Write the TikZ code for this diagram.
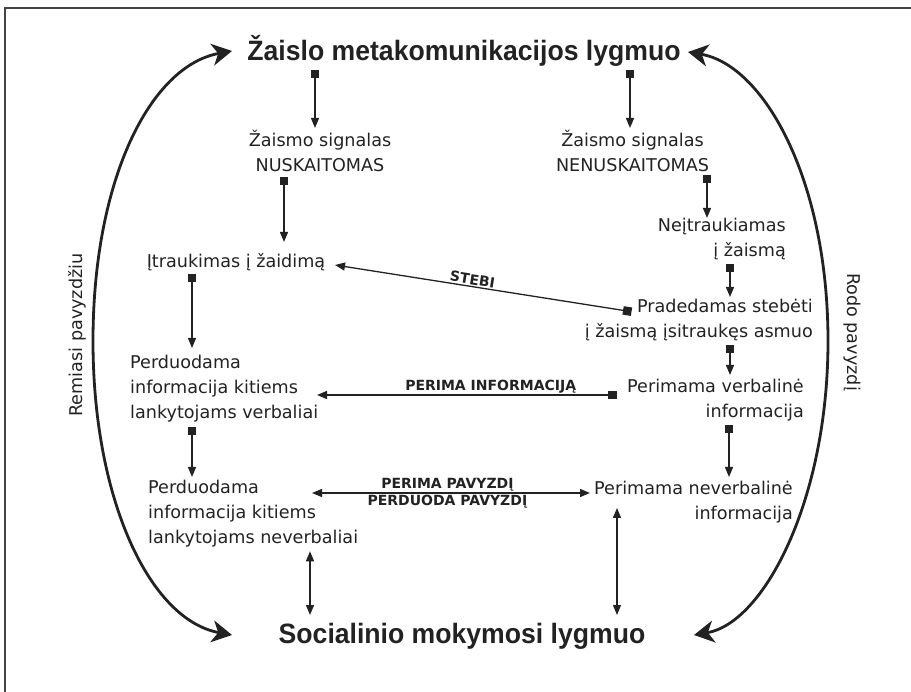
\documentclass[tikz,border=0pt]{standalone}
\usepackage{fontspec}
\usetikzlibrary{arrows.meta}
\newfontfamily\bodyfont{DejaVu Sans}
\newfontfamily\titlefont[FakeStretch=0.95]{Liberation Sans}
\definecolor{ink}{RGB}{34,34,34}
\begin{document}
\begin{tikzpicture}[x=1pt,y=-1pt,
  every node/.style={text=ink},
  txt/.style={font=\bodyfont\fontsize{17.6}{25}\selectfont, inner sep=0pt,
    execute at begin node=\strut, execute at end node=\strut},
  headtxt/.style={font=\titlefont\bfseries\fontsize{28}{32}\selectfont, inner sep=0pt, anchor=base},
  lbl/.style={font=\bodyfont\bfseries\fontsize{14}{16}\selectfont, inner sep=1.2pt},
  feed/.style={draw=ink, line width=1.3pt,
    {Square[length=8.5pt,width=8.5pt]}-{Triangle[length=10pt,width=8pt]}},
  twoway/.style={draw=ink, line width=1.3pt,
    {Triangle[length=10pt,width=8pt]}-{Triangle[length=10pt,width=8pt]}},
  arcline/.style={draw=ink, line width=2.8pt,
    {Stealth[length=20pt,width=22pt,inset=6pt]}-{Stealth[length=20pt,width=22pt,inset=6pt]}},
]
\useasboundingbox (0,0) rectangle (911,692);

% open frame: left and top edges only
\draw[draw=ink!85, line width=2pt] (5,692) -- (5,8) -- (911,8);

% the two levels
\node[headtxt] (play) at (464,61) {Žaislo metakomunikacijos lygmuo};
\node[headtxt] (social) at (462,643) {Socialinio mokymosi lygmuo};

% steps
\node[txt, anchor=north, align=center] (read) at (320,129.5) {Žaismo signalas\\NUSKAITOMAS};
\node[txt, anchor=north, align=center] (unread) at (632.5,129.5) {Žaismo signalas\\NENUSKAITOMAS};
\node[txt, anchor=north] (join) at (236,249.5) {Įtraukimas į žaidimą};
\node[txt, anchor=north east, align=right] (out) at (786,217.5) {Neįtraukiamas\\į žaismą};
\node[txt, anchor=north east, align=right] (watch) at (813,298.5) {Pradedamas stebėti\\į žaismą įsitraukęs asmuo};
\node[txt, anchor=north east, align=right] (verb) at (804,378.5) {Perimama verbalinė\\informacija};
\node[txt, anchor=north east, align=right] (nverb) at (793,480.5) {Perimama neverbalinė\\informacija};
\node[txt, anchor=north west, align=left] (passv) at (130,354.5) {Perduodama\\informacija kitiems\\lankytojams verbaliai};
\node[txt, anchor=north west, align=left] (passnv) at (148,479.5) {Perduodama\\informacija kitiems\\lankytojams neverbaliai};

% side captions
\node[txt, rotate=90] (relies) at (77,335) {Remiasi pavyzdžiu};
\node[txt, rotate=-90] (shows) at (852,332) {Rodo pavyzdį};

% flow arrows
\draw[feed] ([shift={(-149,9)}]play.base) -- ([shift={(-5,-1.5)}]read.north);
\draw[feed] ([shift={(166,9)}]play.base) -- ([shift={(-2.5,-1.5)}]unread.north);
\draw[feed] ([shift={(-36,-2)}]read.south) -- ([shift={(48,-7.5)}]join.north);
\draw[feed] ([shift={(74.5,-4)}]unread.south) -- ([shift={(-79,0.5)}]out.north east);
\draw[feed] ([shift={(-56,0)}]out.south east) -- ([shift={(-83,-1.5)}]watch.north east);
\draw[feed] ([shift={(-181.5,13.2)}]watch.north east)
  -- node[lbl, sloped, above, pos=0.54] {STEBI} ([shift={(99,15.5)}]join.north);
\draw[feed] ([shift={(-44,-1)}]join.south) -- ([shift={(62,-6.5)}]passv.north west);
\draw[feed] ([shift={(-83,0)}]watch.south east) -- ([shift={(-74,-3.5)}]verb.north east);
\draw[feed] ([shift={(-187.5,16.5)}]verb.north east)
  -- node[lbl, above, pos=0.42] {PERIMA INFORMACIJĄ} ([shift={(187,40.5)}]passv.north west);
\draw[feed] ([shift={(62,1)}]passv.south west) -- ([shift={(44,-2.5)}]passnv.north west);
\draw[feed] ([shift={(-75,0)}]verb.south east) -- ([shift={(-64,-3.5)}]nverb.north east);
\draw[twoway] ([shift={(164,13.5)}]passnv.north west)
  -- node[lbl, above, pos=0.487] {PERIMA PAVYZDĮ}
     node[lbl, below, pos=0.487] {PERDUODA PAVYZDĮ}
  ([shift={(-203,12.5)}]nverb.north east);
\draw[twoway] ([shift={(162,0.5)}]passnv.south west) -- ([shift={(-152,-28)}]social.base);
\draw[twoway] ([shift={(-176,27.5)}]nverb.north east) -- ([shift={(155,-28)}]social.base);

% the two long curved links between the levels
\coordinate (lbulge) at (93,341);
\coordinate (rbulge) at (828,341);
\draw[arcline] ([shift={(-230,-8)}]social.base)
  .. controls +(-82,-15) and +(0,159) .. (lbulge)
  .. controls +(0,-161) and +(-82,15) .. ([shift={(-232,-10)}]play.base);
\draw[arcline] ([shift={(232,-8)}]social.base)
  .. controls +(70,-12) and +(0,159) .. (rbulge)
  .. controls +(0,-161) and +(76,13) .. ([shift={(224,-9)}]play.base);
\end{tikzpicture}
\end{document}
